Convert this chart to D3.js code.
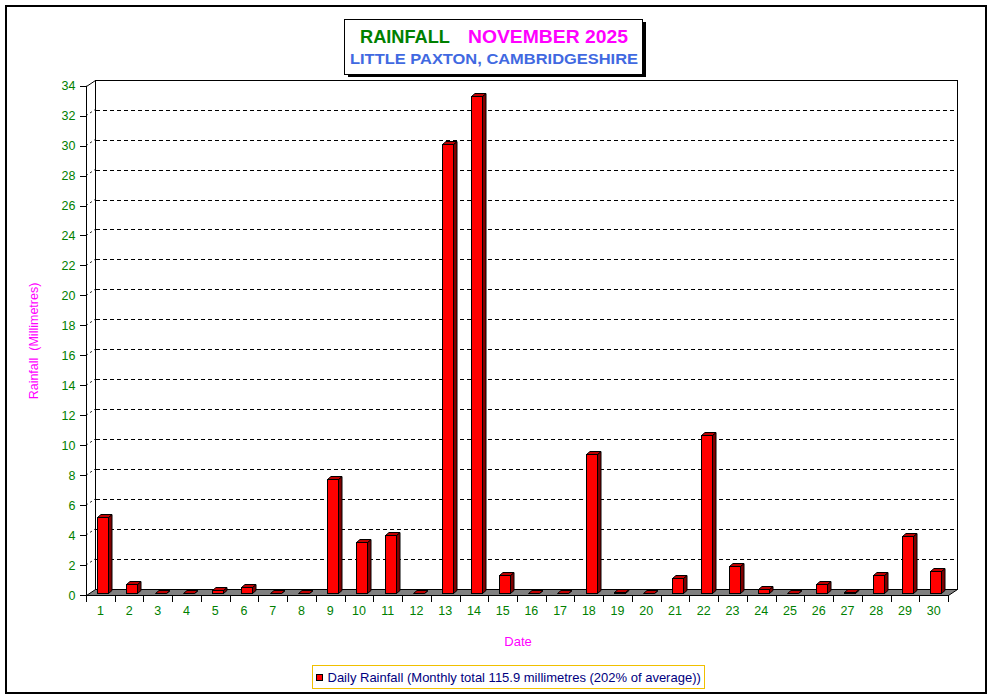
<!DOCTYPE html>
<html><head><meta charset="utf-8">
<script src="https://cdn.jsdelivr.net/npm/d3@7"></script>
<style>html,body{margin:0;padding:0;background:#fff;}svg{display:block;font-family:Arial,"Liberation Sans",sans-serif;}</style>
</head><body>
<svg id="c" width="991" height="698"></svg>
<script>
// ---- data ----
const days = d3.range(1, 31).map(String);
const rainfall = [5.1,0.6,0,0,0.2,0.4,0,0,7.6,3.4,3.9,0,30.0,33.2,1.2,0,0,9.3,0.1,0,1.0,10.6,1.8,0.3,0,0.6,0.1,1.2,3.8,1.5];
const yTicks = d3.range(0, 35, 2);
const titleMain = "RAINFALL";
const titleMonth = "NOVEMBER 2025";
const subtitle = "LITTLE PAXTON, CAMBRIDGESHIRE";
const yLabel = "Rainfall  (Millimetres)";
const xLabel = "Date";
const legendText = "Daily Rainfall (Monthly total 115.9 millimetres (202% of average))";

// ---- layout ----
const svg = d3.select("#c");
const L = 86, R = 948, T = 85.7, B = 595;
const DX = 9, DY = -6;             // wall depth
const x = d3.scaleBand().domain(days).range([L, R]).padding(0);
const y = d3.scaleLinear().domain([0, 34]).range([B, T]);
const bw = x.bandwidth();
const snap = v => Math.round(v) + 0.5;

// outer border
svg.append("rect").attr("x", 6).attr("y", 6).attr("width", 980).attr("height", 687)
  .attr("fill", "#fff").attr("stroke", "#000").attr("stroke-width", 2);

// back wall
svg.append("rect").attr("x", snap(L + DX)).attr("y", snap(y(34) + DY))
  .attr("width", R - L).attr("height", Math.round(y(0) - y(34)))
  .attr("fill", "#fff").attr("stroke", "#000").attr("stroke-width", 1);
// top-left wall edge
svg.append("line").attr("x1", L + 0.5).attr("y1", snap(y(34))).attr("x2", snap(L + DX)).attr("y2", snap(y(34) + DY))
  .attr("stroke", "#000");

// grid lines (back wall) and side dashes
const inner = yTicks.filter(t => t > 0 && t < 34);
svg.append("g").selectAll("line").data(inner).join("line")
  .attr("x1", snap(L + DX)).attr("x2", snap(R + DX))
  .attr("y1", d => snap(y(d) + DY)).attr("y2", d => snap(y(d) + DY))
  .attr("stroke", "#000").attr("stroke-dasharray", "4,3").attr("shape-rendering", "crispEdges");
svg.append("g").selectAll("line").data(inner).join("line")
  .attr("x1", L).attr("y1", d => y(d))
  .attr("x2", L + DX).attr("y2", d => y(d) + DY)
  .attr("stroke", "#000").attr("stroke-dasharray", "2,3");

// floor
svg.append("path")
  .attr("d", `M${L + 0.5},${B + 0.5}L${R + 0.5},${B + 0.5}L${R + DX + 0.5},${B + DY + 0.5}L${L + DX + 0.5},${B + DY + 0.5}Z`)
  .attr("fill", "#808080").attr("stroke", "#000");

// bars
const fy = -1.7;                    // bar front offset into floor
const bx = 3.5, by = -3;            // bar depth
const barW = Math.round(bw * 0.4), barOff = bw * 0.39;
const bars = svg.append("g").selectAll("g").data(rainfall).join("g");
bars.each(function (v, i) {
  const g = d3.select(this);
  const x0 = snap(x(days[i]) + barOff), x1 = x0 + barW;
  const yb = snap(y(0) + fy), yt = snap(y(v) + fy);
  // side
  g.append("path").attr("d", `M${x1},${yt}L${x1 + bx},${yt + by}L${x1 + bx},${yb + by}L${x1},${yb}Z`)
    .attr("fill", "#800000").attr("stroke", "#000").attr("stroke-width", 1);
  // top
  g.append("path").attr("d", `M${x0},${yt}L${x0 + bx},${yt + by}L${x1 + bx},${yt + by}L${x1},${yt}Z`)
    .attr("fill", "#c00000").attr("stroke", "#000").attr("stroke-width", 1);
  // front
  g.append("rect").attr("x", x0).attr("y", yt).attr("width", barW).attr("height", yb - yt)
    .attr("fill", "#ff0000").attr("stroke", "#000").attr("stroke-width", 1);
});

// y axis (front)
const yAxis = svg.append("g").attr("transform", `translate(${L + 0.5},0)`)
  .call(d3.axisLeft(y).tickValues(yTicks).tickSize(7).tickPadding(4).tickFormat(d3.format("d")));
yAxis.select(".domain").attr("stroke", "#000").attr("d", `M0,${T}V${B}`);
yAxis.selectAll(".tick line").attr("stroke", "#000").attr("shape-rendering", "crispEdges");
yAxis.selectAll(".tick text").attr("fill", "#008000").attr("font-size", 12.5).attr("font-family", "Arial, 'Liberation Sans', sans-serif");

// x axis (front edge)
const xAxis = svg.append("g").attr("transform", `translate(0,${B + 0.5})`)
  .call(d3.axisBottom(x).tickSize(0).tickPadding(11));
xAxis.select(".domain").attr("stroke", "#000").attr("d", `M${L},0H${R}`);
xAxis.selectAll(".tick text").attr("fill", "#008000").attr("font-size", 12.5).attr("font-family", "Arial, 'Liberation Sans', sans-serif");
svg.append("g").selectAll("line").data(d3.range(0, days.length + 1)).join("line")
  .attr("x1", i => snap(L + i * bw)).attr("x2", i => snap(L + i * bw))
  .attr("y1", B).attr("y2", B + 7).attr("stroke", "#000");

// axis titles
svg.append("text").attr("x", 518).attr("y", 646).attr("text-anchor", "middle")
  .attr("fill", "#ff00ff").attr("font-size", 13).text(xLabel);
svg.append("text").attr("transform", "translate(38,341) rotate(-90)").attr("text-anchor", "middle")
  .attr("fill", "#ff00ff").attr("font-size", 12.5).style("white-space", "pre").text(yLabel);

// title box
svg.append("rect").attr("x", 348).attr("y", 22).attr("width", 298).attr("height", 55).attr("fill", "#000");
svg.append("rect").attr("x", 344.5).attr("y", 19.5).attr("width", 298).attr("height", 55)
  .attr("fill", "#fff").attr("stroke", "#000").attr("stroke-width", 1);
svg.append("text").attr("x", 360).attr("y", 42.5).attr("fill", "#008000")
  .attr("font-weight", "bold").attr("font-size", 18).attr("textLength", 90).attr("lengthAdjust", "spacingAndGlyphs").text(titleMain);
svg.append("text").attr("x", 468).attr("y", 42.5).attr("fill", "#ff00ff")
  .attr("font-weight", "bold").attr("font-size", 18).attr("textLength", 160).attr("lengthAdjust", "spacingAndGlyphs").text(titleMonth);
svg.append("text").attr("x", 350).attr("y", 64).attr("fill", "#4169e1")
  .attr("font-weight", "bold").attr("font-size", 15).attr("textLength", 288).attr("lengthAdjust", "spacingAndGlyphs").text(subtitle);

// legend
svg.append("rect").attr("x", 312.5).attr("y", 665.5).attr("width", 392).attr("height", 23)
  .attr("fill", "#fff").attr("stroke", "#f0c000").attr("stroke-width", 1);
svg.append("rect").attr("x", 316.5).attr("y", 674.5).attr("width", 6).attr("height", 6)
  .attr("fill", "#ff0000").attr("stroke", "#000");
svg.append("text").attr("x", 327.5).attr("y", 681.5).attr("fill", "#000080")
  .attr("font-size", 13).text(legendText);
</script>
</body></html>
